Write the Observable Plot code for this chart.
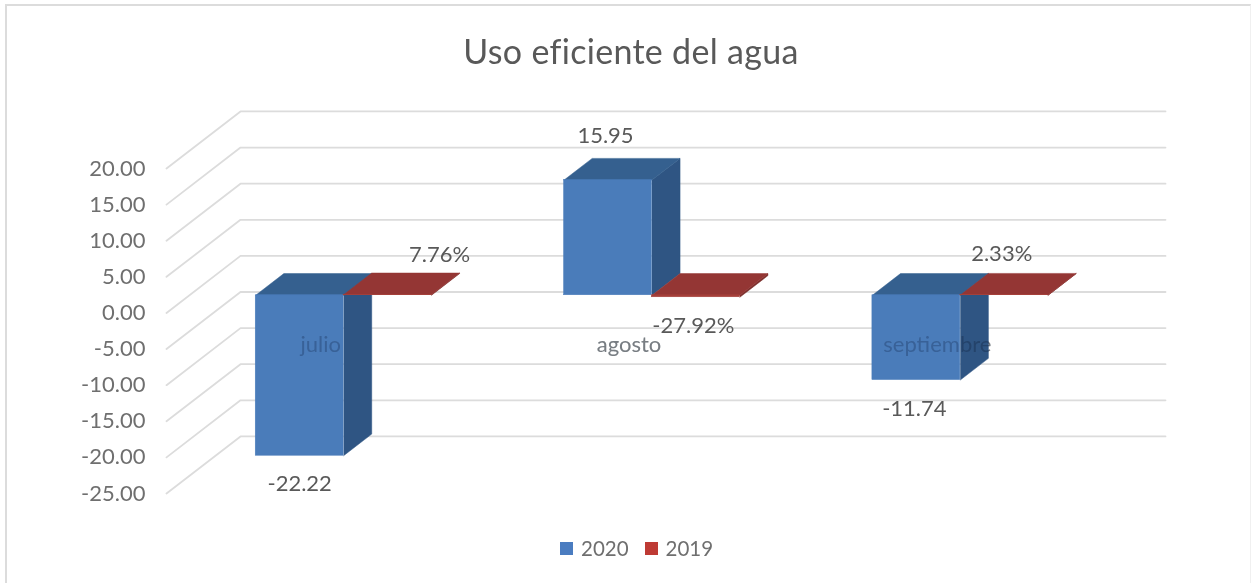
<!DOCTYPE html>
<html lang="es">
<head>
<meta charset="utf-8">
<script src="https://cdn.jsdelivr.net/npm/d3@7"></script>
<script src="https://cdn.jsdelivr.net/npm/@observablehq/plot@0.6"></script>
<style>
  html, body { margin: 0; padding: 0; background: #fff; overflow: hidden; }
  #frame { position: relative; width: 1253px; height: 583px; box-sizing: border-box; font-family: Lato, sans-serif; }
  #border { position: absolute; left: 5px; top: 4px; right: 2px; bottom: -4px; border: 2px solid #dcdcdc; border-right: 1px solid #f0f0f0; border-bottom: none; }
  #title { position: relative; height: 90px; box-sizing: border-box; padding-top: 30px; padding-left: 9px; text-align: center; font-size: 34px; line-height: 42px; color: #595959; letter-spacing: 0.3px; }
  #chart { position: relative; height: 420px; }
  #chart svg { display: block; }
  #legend { position: relative; display: flex; align-items: center; padding-left: 560px; margin-top: 25px; font-size: 20.5px; color: #6f6f6f; line-height: 26px; }
  #legend i { display: block; width: 13px; height: 13px; margin-right: 8px; }
  #legend span { margin-right: 16px; }
</style>
</head>
<body>
<div id="frame">
  <div id="border"></div>
  <div id="title">Uso eficiente del agua</div>
  <div id="chart"></div>
  <div id="legend"></div>
</div>
<script>
const months = ["julio", "agosto", "septiembre"];
const values2020 = [-22.22, 15.95, -11.74];
const values2019 = [0.0776, -0.2792, 0.0233];
const labels2020 = ["-22.22", "15.95", "-11.74"];
const labels2019 = ["7.76%", "-27.92%", "2.33%"];
const yTicks = [20, 15, 10, 5, 0, -5, -10, -15, -20, -25];
const seriesNames = ["2020", "2019"];

// Oblique 3D projection, in scale units (category units, value units)
const wallDx = 0.24, wallDy = 7.9;        // front wall -> back wall
const barStart = 0.31, barDepth = 0.38;   // share of the floor depth
const barWidth = 0.285;
const catLabelValue = -4.45;

const colors = {
  blue: {front: "#4a7cba", side: "#2f5583", top: "#35608f"},
  red: {front: "#a5403a", side: "#7d2f2c", top: "#943634"}
};

function project(x, v, t) { return {x: x + t * wallDx, y: v + t * wallDy}; }

function faces(values, from, to, id) {
  const front = [], side = [], top = [];
  values.forEach((v, i) => {
    const a = i + from * barWidth, b = i + to * barWidth;
    const hi = Math.max(v, 0), lo = Math.min(v, 0);
    const t0 = barStart, t1 = barStart + barDepth;
    const f0 = project(a, lo, t0), f1 = project(b, hi, t0);
    front.push({x1: f0.x, x2: f1.x, y1: f0.y, y2: f1.y});
    [project(b, lo, t0), project(b, lo, t1), project(b, hi, t1), project(b, hi, t0)]
      .forEach(p => side.push({...p, id: id + i}));
    [project(a, hi, t0), project(a, hi, t1), project(b, hi, t1), project(b, hi, t0)]
      .forEach(p => top.push({...p, id: id + i}));
  });
  return {front, side, top};
}

function barMarks(f, c) {
  return [
    Plot.line(f.side, {x: "x", y: "y", z: "id", fill: c.side, stroke: c.side, strokeWidth: 0.5}),
    Plot.line(f.top, {x: "x", y: "y", z: "id", fill: c.top, stroke: c.top, strokeWidth: 0.5}),
    Plot.rect(f.front, {x1: "x1", x2: "x2", y1: "y1", y2: "y2", fill: c.front, stroke: c.front, strokeWidth: 0.5})
  ];
}

const gridPts = yTicks.flatMap(v => [
  {x: -0.5, y: v, id: v},
  {x: -0.5 + wallDx, y: v + wallDy, id: v},
  {x: 2.5 + wallDx, y: v + wallDy, id: v}
]);

const blueFaces = faces(values2020, -1, 0, "b");
const redFaces = faces(values2019, 0, 1, "r");

const barCenter = (i, side) => project(i + side * barWidth / 2, 0, barStart).x;

// data label placement: [dx, dy] in pixels from the bar's front centre and its value
const labelShift2020 = [[0, 28], [-2.5, -44], [-2, 29]];
const labelShift2019 = [[52, -40], [-2.5, 29], [-2.5, -41]];

function labelMarks(texts, values, side, shifts) {
  return texts.map((t, i) => Plot.text([t], {
    x: () => barCenter(i, side),
    y: () => project(0, values[i], barStart).y,
    text: d => d,
    dx: shifts[i][0],
    dy: shifts[i][1],
    fontSize: 22,
    fill: "#595959"
  }));
}

const monthLabel = extra => Plot.text(months, {
  x: (d, i) => i,
  y: () => catLabelValue,
  text: d => d,
  fontSize: 22,
  ...extra
});

const plot = Plot.plot({
  width: 1253,
  height: 420,
  marginTop: 78,
  marginBottom: 17,
  marginLeft: 166,
  marginRight: 162,
  style: {fontFamily: "Lato, sans-serif", background: "transparent", overflow: "visible"},
  x: {domain: [-0.5, 2.5], axis: null},
  y: {domain: [-25, 20], axis: null},
  marks: [
    Plot.line(gridPts, {x: "x", y: "y", z: "id", stroke: "#dcdcdc", strokeWidth: 1.8}),
    Plot.axisY({
      ticks: yTicks,
      tickFormat: d => d.toFixed(2),
      tickSize: 0,
      tickPadding: 21,
      fontSize: 22,
      fill: "#6f6f6f",
      label: null
    }),
    monthLabel({fill: "#a0a0a0"}),
    ...barMarks(blueFaces, colors.blue),
    ...barMarks(redFaces, colors.red),
    monthLabel({fill: "#c0c8d0", mixBlendMode: "multiply"}),
    ...labelMarks(labels2020, values2020, -1, labelShift2020),
    ...labelMarks(labels2019, values2019, 1, labelShift2019)
  ]
});
document.getElementById("chart").append(plot);

const legendColors = ["#4a7cc0", "#be3a34"];
const legend = document.getElementById("legend");
seriesNames.forEach((name, i) => {
  const sw = document.createElement("i");
  sw.style.background = legendColors[i];
  const label = document.createElement("span");
  label.textContent = name;
  legend.append(sw, label);
});
</script>
</body>
</html>
